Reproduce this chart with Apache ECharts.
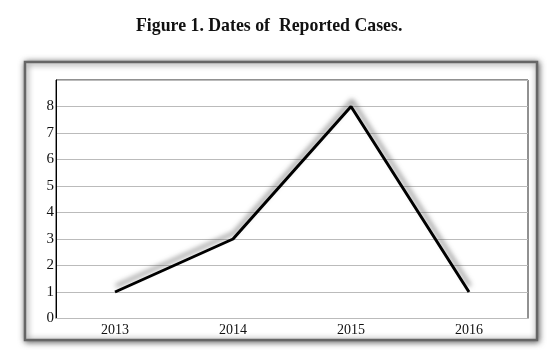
<!DOCTYPE html>
<html><head><meta charset="utf-8">
<script src="https://cdn.jsdelivr.net/npm/echarts@6/dist/echarts.min.js"></script>
<style>html,body{margin:0;padding:0;background:#fff}#c{width:560px;height:358px}</style>
</head><body><div id="c"></div>
<script>
const categories = ['2013', '2014', '2015', '2016'];
const cases = [1, 3, 8, 1];
const yTicks = [0, 1, 2, 3, 4, 5, 6, 7, 8];
const titleText = 'Figure 1. Dates of  Reported Cases.';

const chart = echarts.init(document.getElementById('c'));
chart.setOption({
  animation: false,
  backgroundColor: '#fff',
  title: {
    text: titleText, left: 131, top: 12,
    textStyle: {fontFamily: 'Liberation Serif, serif', fontWeight: 'bold', fontSize: 17.8, color: '#111'}
  },
  graphic: [{
    type: 'rect', z: -10, silent: true,
    shape: {x: 25, y: 62, width: 512, height: 278},
    style: {fill: '#fff', stroke: '#666', lineWidth: 2.5, shadowBlur: 6, shadowColor: 'rgba(0,0,0,0.6)', shadowOffsetX: 1, shadowOffsetY: 1}
  }],
  grid: {left: 56, right: 32, top: 80, bottom: 39.5, show: true, borderColor: '#222', borderWidth: 1, backgroundColor: 'transparent'},
  xAxis: {
    type: 'category', data: categories, boundaryGap: true,
    axisLine: {lineStyle: {color: '#bbb', width: 1}},
    axisTick: {show: false},
    axisLabel: {fontFamily: 'Liberation Serif, serif', fontSize: 14, color: '#111', margin: 5}
  },
  yAxis: {
    type: 'value', min: 0, max: 9, interval: 1,
    axisLine: {show: true, lineStyle: {color: '#000', width: 1}},
    axisTick: {show: false},
    splitLine: {lineStyle: {color: '#bbb', width: 1}},
    axisLabel: {
      fontFamily: 'Liberation Serif, serif', fontSize: 15, color: '#111', margin: 2,
      formatter: v => yTicks.includes(v) ? String(v) : ''
    }
  },
  series: [{
    type: 'line', data: cases, symbol: 'none',
    lineStyle: {color: '#000', width: 3, shadowColor: 'rgba(80,80,80,0.7)', shadowBlur: 5, shadowOffsetX: 1, shadowOffsetY: -6}
  }]
});
</script></body></html>
